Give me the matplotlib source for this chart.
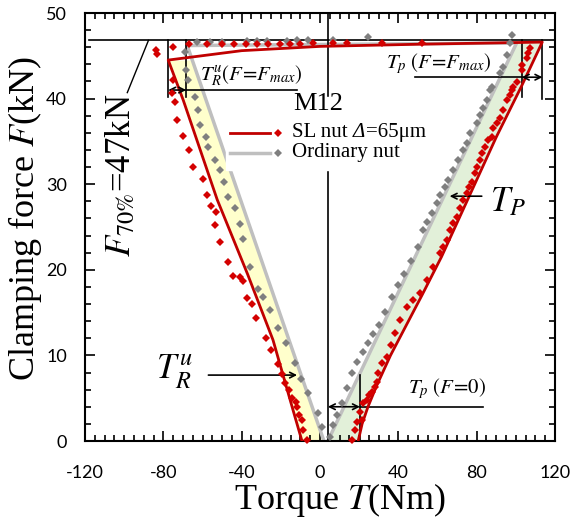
import numpy as np
import matplotlib
matplotlib.use('Agg')
import matplotlib.pyplot as plt
from matplotlib.patches import Rectangle
from matplotlib.ticker import MultipleLocator
from matplotlib.offsetbox import TextArea, HPacker, AnchoredOffsetbox

plt.rcParams['font.family'] = ['Liberation Serif', 'DejaVu Serif']
plt.rcParams['mathtext.fontset'] = 'stix'

# 拟合线 SL nut (左支 -> 顶部 -> 右支)
sl_fit_T = [-9.2, -13, -18, -24, -37, -52.5, -69.8, -77.5,
            -40, 0, 50, 113.5,
            103, 90, 76, 62, 52, 44, 36, 29, 24.5, 21.5, 19.5]
sl_fit_F = [0, 3, 7, 11.8, 19.5, 28.2, 39.8, 44.5,
            45.6, 46.1, 46.35, 46.6,
            41.5, 35.5, 28.5, 21.5, 17, 13.5, 10, 6.5, 4, 2, 0]
# 拟合线 普通螺母
ord_fit_T = [2, -67.8, 100.4, 4]
ord_fit_F = [0, 46.2, 46.5, 0]

# 实测点 SL nut
sl_T = [-84, -83, -75, -75, -75.4, -73.9, -72.9, -69.8, -66.8, -64.7, -59.6, -57.6,
        -55.5, -53.0, -53.5, -51.0, -46.9, -44.3, -40.8, -39.2, -37.2, -34.6, -32.6,
        -27.5, -25, -21.4, -19.5, -17.8, -16, -14.3, -12.5, -11.7, -10.7, -9.2, -8.7, -6.6,
        -67, -57.6, -50, -44, -38, -32, -26.5, -20.4, -15.3, -10.2, -3.6, 6.6, 13.8, 31.6, 52,
        107.0, 106.0, 105.5, 103.4, 102.9, 100.4, 98.4, 97.8, 96.8, 95.3, 93.3, 91.7, 90.2,
        88.2, 87.7, 85.6, 84.1, 82.6, 81.5, 80.0, 79.0, 77.5, 75.9, 74.9, 72.9, 71.3, 69.8,
        67.8, 66.2, 64.7, 62.7, 61.2, 57.6, 54.5, 51.0, 47.4, 44.3, 40.8, 38.2, 36.2,
        34.1, 31.6, 29.6, 29.0, 28.0, 26.5, 25.0, 24.0, 21.9, 20.4, 21.4, 18.9, 17.8, 16.3]
sl_F = [45.7, 45.2, 46.0, 42.2, 40.7, 39.6, 37.5, 35.6, 34.0, 32.0, 30.6, 28.7,
        27.4, 26.8, 25.2, 23.2, 20.9, 19.3, 19.2, 18.7, 16.7, 16.0, 14.4,
        12.0, 10.6, 9.0, 7.8, 6.8, 6.0, 5.0, 4.6, 4.0, 3.0, 2.5, 1.3, 0.1,
        46.4, 46.4, 46.4, 46.4, 46.4, 46.4, 46.4, 46.4, 46.4, 46.4, 46.5, 46.5, 46.5, 46.5, 46.5,
        45.9, 45.3, 44.7, 43.9, 43.3, 41.9, 41.4, 41.0, 40.4, 39.8, 38.7, 37.7, 37.1,
        36.6, 35.5, 35.2, 34.3, 33.6, 32.8, 32.0, 31.3, 30.3, 29.7, 29.0, 28.2, 27.2, 26.2,
        25.5, 24.6, 23.5, 22.7, 22.0, 20.3, 18.8, 17.3, 16.5, 15.7, 14.1, 12.6, 11.2,
        9.8, 9.1, 7.9, 6.9, 6.3, 5.7, 5.4, 4.8, 4.4, 3.4, 2.5, 2.2, 1.3, 0.1]

# 实测点 普通螺母
ord_T = [-68.8, -68.3, -67.3, -63.7, -62.2, -61.2, -58.1, -57.1, -53.5, -51.0, -48.9, -46.9,
         -43.3, -41, -39.2, -35.7, -31.6, -29.0, -25.5, -21.4, -17.3, -12.7, -9.5, -6.1, -1.0, 1.0,
         -62.7, -56, -50, -37.2, -32.1, -27, -16.8, -11.7, -6.1, 6.6, 24.5,
         97.8, 96.8, 95.3, 93.3, 91.7, 87.7, 86.6, 85.1, 83.1, 81.5, 80.0, 76.4, 74.9, 72.9,
         70.3, 67.8, 65.2, 63.7, 61.2, 59.6, 57.1, 54.5, 52.5, 49.9, 46.5, 43, 40, 37, 33,
         30, 27, 24.5, 21.9, 18.9, 16.3, 13.8, 11.2, 8.7, 6.6, 5.1]
ord_F = [45.4, 43.3, 42.2, 40.2, 38.7, 36.9, 35.5, 34.3, 32.8, 31.7, 30.3, 28.5,
         27.2, 25.3, 23.6, 20.3, 17.8, 16.8, 15.3, 13.2, 11.4, 9.1, 7.3, 5.6, 3.3, 1.6,
         46.6, 46.6, 46.6, 46.7, 46.7, 46.7, 46.7, 46.8, 46.8, 46.8, 47.2,
         47.4, 46.5, 45.1, 43.7, 43.0, 41.4, 41.0, 39.8, 38.9, 38.1, 37.1, 36.0, 34.8, 34.0,
         32.8, 31.7, 30.5, 29.7, 28.7, 27.8, 26.6, 25.6, 24.6, 22.7, 21.0, 19.5, 18.2, 16.8, 15.1,
         13.6, 12.5, 11.4, 10.4, 9.2, 7.9, 6.2, 4.4, 3.0, 1.9, 0.5]

xticks = [-120, -80, -40, 0, 40, 80, 120]
yticks = [0, 10, 20, 30, 40, 50]

red = '#C00000'
red_dot = '#D40000'
gray_line = '#BFBFBF'
gray_dot = '#7F7F7F'

fig = plt.figure(figsize=(5.71, 5.24), dpi=100)
ax = fig.add_axes([85/571, 1 - 441/524, 470/571, 428/524])

# 填充区域
fT = np.array(sl_fit_T); fF = np.array(sl_fit_F)
left_T, left_F = fT[:8], fF[:8]
right_T, right_F = fT[11:], fF[11:]
g_left = np.interp(left_F, [ord_fit_F[0], ord_fit_F[1]], [ord_fit_T[0], ord_fit_T[1]])
g_right = np.interp(right_F, [ord_fit_F[3], ord_fit_F[2]], [ord_fit_T[3], ord_fit_T[2]])
ax.fill_betweenx(left_F, left_T, g_left, color='#FFFFCC', lw=0, zorder=1)
ax.fill_betweenx(right_F, g_right, right_T, color='#E2F0D9', lw=0, zorder=1)

ax.plot(ord_fit_T, ord_fit_F, color=gray_line, lw=2.5, zorder=2)
ax.plot(sl_fit_T, sl_fit_F, color=red, lw=2, zorder=3)
ax.plot(ord_T, ord_F, 'D', color=gray_dot, ms=3.8, mew=0, zorder=4, clip_on=False)
ax.plot(sl_T, sl_F, 'D', color=red_dot, ms=3.8, mew=0, zorder=5, clip_on=False)

# 参考线
ax.plot([4, 4], [0, 50], color='k', lw=1.2, zorder=2)
ax.plot([-118, 120], [46.8, 46.8], color='k', lw=1.2, zorder=2)
ax.plot([-87.6, -98.4], [46.8, 40.7], color='k', lw=1)

arw = dict(arrowstyle='<->', lw=1.2, color='k', shrinkA=0, shrinkB=0, mutation_scale=10)
one = dict(arrowstyle='->', lw=1.2, color='k', shrinkA=0, shrinkB=0, mutation_scale=10)

# T_R^u (F=Fmax)
ax.plot([-77.5, -77.5], [46.8, 40.2], color='k', lw=1.2)
ax.plot([-68.3, -68.3], [46.8, 40.2], color='k', lw=1.2)
ax.plot([-68.3, -11.7], [41.0, 41.0], color='k', lw=1.2)
ax.annotate('', xy=(-77.5, 41.0), xytext=(-68.3, 41.0), arrowprops=arw)
ax.text(-35, 42.7, r'$T_R^u(F\!=\!F_{max})$', fontsize=15, ha='center', va='center')

# T_p (F=Fmax)
ax.plot([103, 103], [46.8, 40.2], color='k', lw=1.2)
ax.plot([113.6, 113.6], [46.8, 40.0], color='k', lw=1.2)
ax.plot([48.4, 103], [42.5, 42.5], color='k', lw=1.2)
ax.annotate('', xy=(103, 42.5), xytext=(113.6, 42.5), arrowprops=arw)
ax.text(60.6, 44.1, r'$T_p\ (F\!=\!F_{max})$', fontsize=15, ha='center', va='center')

# T_p (F=0)
ax.plot([20.4, 20.4], [7.7, 0], color='k', lw=1.2)
ax.plot([20.4, 83], [4.0, 4.0], color='k', lw=1.2)
ax.annotate('', xy=(4, 4.0), xytext=(20.4, 4.0), arrowprops=arw)
ax.text(64.7, 6.1, r'$T_p\ (F\!=\!0)$', fontsize=15, ha='center', va='center')

# 大标签
ax.annotate('', xy=(66.2, 28.6), xytext=(82.6, 28.6), arrowprops=one)
ax.text(95.8, 27.8, r'$T_P$', fontsize=25, ha='center', va='center')
ax.annotate('', xy=(-11.7, 7.7), xytext=(-57, 7.7), arrowprops=one)
ax.text(-74.4, 8.1, r'$T_R^u$', fontsize=25, ha='center', va='center')
ax.text(-101.4, 31.0, r'$F_{70\%}$=47kN', fontsize=25, rotation=90,
        ha='center', va='center')

# 图例
tr = ax.transAxes
ax.add_patch(Rectangle((0.30, 0.633), 0.44, 0.171, transform=tr, color='white', zorder=6))
ax.text(0.496, 0.787, 'M12', transform=tr, fontsize=19, ha='center', va='center', zorder=7)
ax.plot([0.309, 0.394], [0.720, 0.720], transform=tr, color=red, lw=2, zorder=7)
ax.plot([0.411], [0.720], 'D', transform=tr, color=red_dot, ms=3.8, mew=0, zorder=7)
delta_part = HPacker(children=[TextArea('Δ', textprops=dict(fontsize=15, style='italic')),
                               TextArea('=65μm', textprops=dict(fontsize=15))],
                     sep=0.5, pad=0, align='baseline')
sl_label = HPacker(children=[TextArea('SL nut', textprops=dict(fontsize=15)), delta_part],
                   sep=4, pad=0, align='baseline')
box = AnchoredOffsetbox(loc='center left', child=sl_label, pad=0, borderpad=0,
                        frameon=False, bbox_to_anchor=(0.440, 0.720), bbox_transform=tr)
box.set_zorder(7)
ax.add_artist(box)
ax.plot([0.309, 0.394], [0.673, 0.673], transform=tr, color=gray_line, lw=2.5, zorder=7)
ax.plot([0.411], [0.673], 'D', transform=tr, color=gray_dot, ms=3.8, mew=0, zorder=7)
ax.text(0.440, 0.673, 'Ordinary nut', transform=tr, fontsize=15, va='center', zorder=7)

# 坐标轴
ax.set_xlim(-120, 120)
ax.set_ylim(0, 50)
ax.set_xticks(xticks)
ax.set_yticks(yticks)
ax.set_xticklabels([str(v) for v in xticks], fontfamily='Lato', fontsize=13)
ax.set_yticklabels([str(v) for v in yticks], fontfamily='Lato', fontsize=13)
ax.xaxis.set_minor_locator(MultipleLocator(5))
ax.yaxis.set_minor_locator(MultipleLocator(2))
ax.tick_params(which='both', direction='in', top=True, right=True, width=1.2)
ax.tick_params(which='major', length=7)
ax.tick_params(which='minor', length=4)
ax.tick_params(axis='x', pad=17)
ax.tick_params(axis='y', pad=13)
for s in ax.spines.values():
    s.set_linewidth(1.5)

ax.set_xlabel(r'Torque $T$(Nm)', fontsize=26, va='center')
ax.set_ylabel(r'Clamping force $F$(kN)', fontsize=26, va='center')
ax.xaxis.set_label_coords(0.543, -0.138)
ax.yaxis.set_label_coords(-0.128, 0.52)

plt.savefig('out.png', dpi=100)
